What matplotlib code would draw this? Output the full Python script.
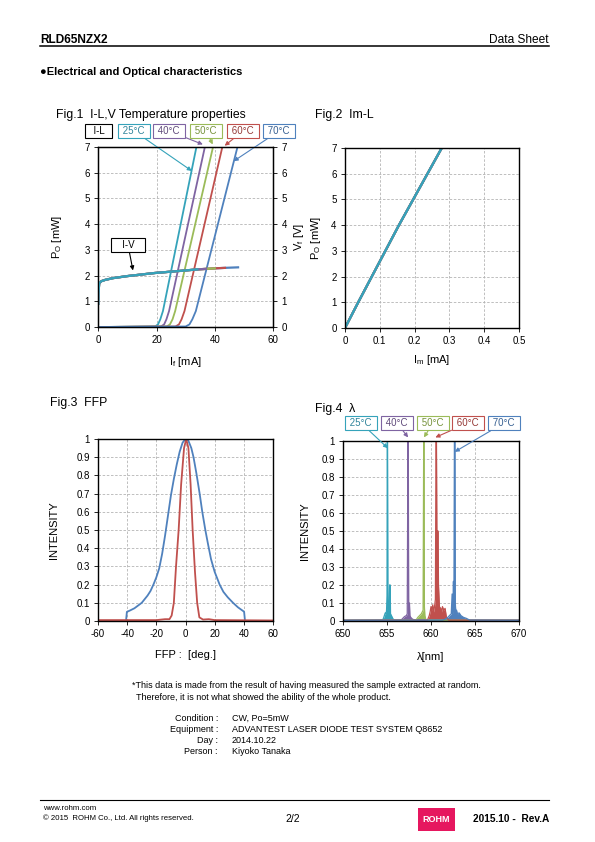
import matplotlib
matplotlib.use("Agg")
import matplotlib.pyplot as plt
from matplotlib.patches import Rectangle

plt.rcParams['font.family'] = ['Liberation Sans', 'DejaVu Sans']
plt.rcParams['mathtext.fontset'] = 'custom'
plt.rcParams['mathtext.rm'] = 'Liberation Sans'
plt.rcParams['mathtext.it'] = 'Liberation Sans'
plt.rcParams['axes.unicode_minus'] = False

W, H = 595, 842

# ---- data ----
temps = ['25°C', '40°C', '50°C', '60°C', '70°C']
colors = ['#35a3ba', '#7f64a2', '#9bbb59', '#c0504d', '#4f81bd']
text_colors = ['#31859c', '#604a7b', '#77933c', '#953735', '#376092']

# Fig.1 I-L (If mA, Po mW)
il_current = [
    [0, 19.5, 20.5, 21.3, 22.2, 33.7],
    [0, 21.5, 22.6, 23.4, 24.3, 36.6],
    [0, 23.5, 24.6, 25.5, 26.4, 39.4],
    [0, 26.5, 27.7, 28.6, 29.6, 42.6],
    [0, 30.0, 31.3, 32.3, 33.5, 47.8],
]
il_power = [0.0, 0.02, 0.1, 0.3, 0.62, 7.0]

# Fig.1 I-V (If mA, Vf V), one curve per temperature, ending at the last current measured
iv_current = [0, 0.05, 0.3, 1, 2.3, 5, 10, 19.4, 30, 34, 37, 40, 43.5, 48]
iv_voltage = [0.9, 1.3, 1.7, 1.78, 1.83, 1.9, 1.98, 2.1, 2.2, 2.24, 2.26, 2.28, 2.3, 2.32]
iv_end = [34, 37, 40, 43.5, 48]

# Fig.2 Im-L
im_current = [0, 0.038, 0.077, 0.116, 0.155, 0.196, 0.237, 0.278]
im_power = [0, 1, 2, 3, 4, 5, 6, 7]

# Fig.3 FFP
ffp_perp_deg = [-60, -40.8, -40.2, -38, -35, -32, -30, -28, -26, -24, -22, -20, -18, -16,
                -14, -12, -10, -8, -6, -4, -2, 0, 1, 2, 4, 5.5, 7.5, 9.7, 11.5, 13.6, 15.5,
                17.5, 20, 23.4, 26, 29, 32.6, 36, 39.5, 40.2, 40.8, 60]
ffp_perp = [0.0, 0.0, 0.05, 0.058, 0.07, 0.088, 0.1, 0.12, 0.14, 0.165, 0.2, 0.24, 0.29,
            0.37, 0.47, 0.58, 0.69, 0.78, 0.86, 0.93, 0.98, 1.0, 1.0, 0.99, 0.95, 0.9, 0.81,
            0.7, 0.6, 0.5, 0.42, 0.34, 0.27, 0.2, 0.16, 0.13, 0.1, 0.075, 0.055, 0.05, 0.0, 0.0]
ffp_par_deg = [-60, -20, -14, -11, -9.5, -8, -6.5, -4.7, -3, -1, 0.5, 2, 3.5, 4.9, 6.5, 8,
               9.5, 12, 16, 20, 60]
ffp_par = [0.005, 0.005, 0.01, 0.01, 0.03, 0.1, 0.3, 0.5, 0.75, 0.95, 1.0, 0.95, 0.75, 0.5,
           0.27, 0.1, 0.02, 0.008, 0.01, 0.005, 0.003]

# Fig.4 spectra
spec_wl = [
    [650, 654.5, 654.6, 654.7, 654.8, 654.9, 654.95, 655.0, 655.03, 655.06, 655.1, 655.15,
     655.2, 655.25, 655.3, 655.33, 655.36, 655.4, 655.5, 655.6, 655.7, 655.9, 670],
    [650, 656.6, 656.8, 657.0, 657.2, 657.3, 657.38, 657.42, 657.46, 657.5, 657.55, 657.6,
     657.7, 657.9, 658.2, 670],
    [650, 658.3, 658.5, 658.7, 658.9, 659.0, 659.1, 659.17, 659.2, 659.25, 659.3, 659.4,
     659.6, 670],
    [650, 659.6, 659.8, 659.9, 660.0, 660.1, 660.2, 660.3, 660.4, 660.5, 660.57, 660.62,
     660.68, 660.75, 660.8, 660.85, 660.95, 661.1, 661.2, 661.3, 661.45, 661.6, 661.75, 662.0, 670],
    [650, 661.3, 661.6, 661.9, 662.1, 662.3, 662.4, 662.45, 662.5, 662.55, 662.6, 662.66,
     662.72, 662.76, 662.82, 662.9, 663.0, 663.2, 663.4, 663.7, 664.0, 664.4, 670],
]
spec_int = [
    [0.004, 0.005, 0.015, 0.03, 0.045, 0.04, 0.06, 0.14, 1.0, 1.0, 0.1, 0.05, 0.06, 0.12,
     0.2, 0.05, 0.2, 0.04, 0.03, 0.02, 0.01, 0.005, 0.004],
    [0.004, 0.005, 0.015, 0.025, 0.03, 0.04, 1.0, 1.0, 0.1, 0.03, 0.1, 0.03, 0.02, 0.01,
     0.005, 0.004],
    [0.004, 0.005, 0.02, 0.03, 0.04, 0.05, 0.06, 1.0, 1.0, 0.08, 0.03, 0.01, 0.005, 0.004],
    [0.004, 0.005, 0.03, 0.05, 0.08, 0.06, 0.09, 0.05, 0.08, 0.12, 1.0, 1.0, 0.3, 0.5, 0.5,
     0.2, 0.08, 0.07, 0.05, 0.08, 0.06, 0.07, 0.02, 0.005, 0.004],
    [0.004, 0.005, 0.01, 0.02, 0.03, 0.04, 0.15, 0.04, 0.08, 0.22, 0.05, 1.0, 1.0, 0.1,
     0.05, 0.06, 0.04, 0.045, 0.03, 0.02, 0.015, 0.005, 0.004],
]

conditions = ['Condition :', 'Equipment :', 'Day :', 'Person :']
condition_values = ['CW, Po=5mW', 'ADVANTEST LASER DIODE TEST SYSTEM Q8652',
                    '2014.10.22', 'Kiyoko Tanaka']

TICK_FS = 7.0
LABEL_FS = 8
TITLE_FS = 8.8
BOX_FS = 7


def fxy(x, y):
    return x / W, 1 - y / H


def make_axes(fig, x0, y0, x1, y1):
    return fig.add_axes([x0 / W, 1 - y1 / H, (x1 - x0) / W, (y1 - y0) / H])


def style_axes(ax):
    ax.grid(True, color='#b4b4b4', linestyle=(0, (3, 2)), linewidth=0.6)
    ax.set_axisbelow(True)
    for s in ax.spines.values():
        s.set_linewidth(1.0)
    ax.tick_params(direction='out', length=3, width=0.6, labelsize=TICK_FS, pad=3)


def fmt(v, _=None):
    return f"{v:g}"


def label_box(ax, text, xy, box_xy, ec, tc, arrow=True):
    arrowprops = None
    if arrow:
        arrowprops = dict(arrowstyle='-|>', color=ec, lw=0.8, mutation_scale=6,
                          shrinkA=0, shrinkB=0)
    ax.annotate(text, xy=xy, xycoords='data', xytext=fxy(*box_xy),
                textcoords='figure fraction', ha='center', va='center',
                fontsize=BOX_FS, color=tc, annotation_clip=False,
                bbox=dict(boxstyle='square,pad=0.25', fc='white', ec=ec, lw=0.8),
                arrowprops=arrowprops)


fig = plt.figure(figsize=(W / 100, H / 100), dpi=100)

# ---- page header ----
fig.text(*fxy(40, 43), 'RLD65NZX2', fontsize=8.6, fontweight='bold', va='baseline')
fig.text(*fxy(549, 43), 'Data Sheet', fontsize=8.6, ha='right', va='baseline')
fig.add_artist(plt.Line2D([40 / W, 549 / W], [1 - 45.5 / H] * 2, color='black', lw=1.1))
fig.text(*fxy(40, 75), '●Electrical and Optical characteristics', fontsize=8,
         fontweight='bold', va='baseline')

# ---- Fig.1 ----
ax1 = make_axes(fig, 98.3, 147, 273, 327)
style_axes(ax1)
for cur, col in zip(il_current, colors):
    ax1.plot(cur, il_power, color=col, lw=1.3)
ax1v = ax1.twinx()
for end, col in zip(iv_end[::-1], colors[::-1]):
    n = iv_current.index(end) + 1
    ax1v.plot(iv_current[:n], iv_voltage[:n], color=col, lw=1.6)
for ax in (ax1, ax1v):
    ax.set_xlim(0, 60)
    ax.set_ylim(0, 7)
    ax.set_yticks(range(0, 8))
ax1.set_xticks([0, 20, 40, 60])
ax1v.tick_params(direction='out', length=3, width=0.6, labelsize=TICK_FS, pad=3)
ax1.set_ylabel(r'P$_{\rm O}$ [mW]', fontsize=LABEL_FS, labelpad=15)
ax1v.set_ylabel(r'V$_{\rm f}$ [V]', fontsize=LABEL_FS, labelpad=4)
ax1.set_xlabel(r'I$_{\rm f}$ [mA]', fontsize=LABEL_FS, labelpad=7)
fig.text(*fxy(56, 118), 'Fig.1  I-L,V Temperature properties', fontsize=TITLE_FS,
         va='baseline')

fig.text(*fxy(98.5, 131), '  I-L  ', fontsize=BOX_FS, ha='center', va='center',
         bbox=dict(boxstyle='square,pad=0.25', fc='white', ec='black', lw=0.8))
fig1_tips = [(32.1, 6.07), (35.9, 7.1), (39.3, 7.1), (43.4, 7.05), (46.5, 6.45)]
fig1_boxes = [(134, 131), (169, 131), (206, 131), (243, 131), (279, 131)]
for t, tip, box, col, tcol in zip(temps, fig1_tips, fig1_boxes, colors, text_colors):
    label_box(ax1, ' ' + t + ' ', tip, box, col, tcol)
label_box(ax1v, '   I-V   ', (11.9, 2.2), (128, 245), 'black', 'black')

# ---- Fig.2 ----
ax2 = make_axes(fig, 345, 148, 519, 328)
style_axes(ax2)
for col in colors[::-1]:
    ax2.plot(im_current, im_power, color=col, lw=1.6)
ax2.set_xlim(0, 0.5)
ax2.set_ylim(0, 7)
ax2.set_xticks([0, 0.1, 0.2, 0.3, 0.4, 0.5])
ax2.xaxis.set_major_formatter(fmt)
ax2.set_yticks(range(0, 8))
ax2.set_ylabel(r'P$_{\rm O}$ [mW]', fontsize=LABEL_FS, labelpad=6)
ax2.set_xlabel(r'I$_{\rm m}$ [mA]', fontsize=LABEL_FS, labelpad=5)
fig.text(*fxy(315, 118), 'Fig.2  Im-L', fontsize=TITLE_FS, va='baseline')

# ---- Fig.3 ----
ax3 = make_axes(fig, 98, 439, 273, 621)
style_axes(ax3)
ax3.plot(ffp_perp_deg, ffp_perp, color=colors[4], lw=1.3)
ax3.plot(ffp_par_deg, ffp_par, color=colors[3], lw=1.3)
ax3.set_xlim(-60, 60)
ax3.set_ylim(0, 1)
ax3.set_xticks(range(-60, 61, 20))
ax3.set_yticks([i / 10 for i in range(11)])
ax3.yaxis.set_major_formatter(fmt)
ax3.set_ylabel('INTENSITY', fontsize=LABEL_FS, labelpad=12)
ax3.set_xlabel('FFP :  [deg.]', fontsize=LABEL_FS, labelpad=8)
fig.text(*fxy(50, 406), 'Fig.3  FFP', fontsize=TITLE_FS, va='baseline')

# ---- Fig.4 ----
ax4 = make_axes(fig, 343, 441, 519, 621)
style_axes(ax4)
for wl, it, col in zip(spec_wl, spec_int, colors):
    ax4.fill_between(wl, it, color=col, lw=0)
    ax4.plot(wl, it, color=col, lw=0.9)
ax4.set_xlim(650, 670)
ax4.set_ylim(0, 1)
ax4.set_xticks(range(650, 671, 5))
ax4.set_yticks([i / 10 for i in range(11)])
ax4.yaxis.set_major_formatter(fmt)
ax4.set_ylabel('INTENSITY', fontsize=LABEL_FS, labelpad=8)
ax4.set_xlabel('λ[nm]', fontsize=LABEL_FS, labelpad=9)
fig.text(*fxy(315, 412), 'Fig.4  λ', fontsize=TITLE_FS, va='baseline')

fig4_tips = [(655.1, 0.96), (657.4, 1.02), (659.2, 1.02), (660.5, 1.02), (662.7, 0.94)]
fig4_boxes = [(361, 423), (397, 423), (433, 423), (468, 423), (504, 423)]
for t, tip, box, col, tcol in zip(temps, fig4_tips, fig4_boxes, colors, text_colors):
    label_box(ax4, ' ' + t + ' ', tip, box, col, tcol)

# ---- notes ----
fig.text(*fxy(132, 688), '*This data is made from the result of having measured the sample '
         'extracted at random.', fontsize=6.5, va='baseline')
fig.text(*fxy(136, 700), 'Therefore, it is not what showed the ability of the whole product.',
         fontsize=6.5, va='baseline')
for i, (lab, val) in enumerate(zip(conditions, condition_values)):
    y = 721 + 11 * i
    fig.text(*fxy(218, y), lab, fontsize=6.5, ha='right', va='baseline')
    fig.text(*fxy(232, y), val, fontsize=6.5, va='baseline')

# ---- footer ----
fig.add_artist(plt.Line2D([40 / W, 549 / W], [1 - 800 / H] * 2, color='black', lw=0.8))
fig.text(*fxy(43, 810), 'www.rohm.com', fontsize=5.6, va='baseline')
fig.text(*fxy(43, 820), '© 2015  ROHM Co., Ltd. All rights reserved.', fontsize=5.6,
         va='baseline')
fig.text(*fxy(293, 822), '2/2', fontsize=7.5, ha='center', va='baseline')
fig.add_artist(Rectangle(fxy(418, 831), 37 / W, 23 / H, transform=fig.transFigure,
                         fc='#e6175f', ec='none'))
fig.text(*fxy(436.5, 820), 'ROHM', fontsize=6.5, fontweight='bold', color='white',
         ha='center', va='center')
fig.text(*fxy(549, 822), '2015.10 -  Rev.A', fontsize=7.3, fontweight='bold', ha='right',
         va='baseline')

fig.savefig('out.png', dpi=100)
